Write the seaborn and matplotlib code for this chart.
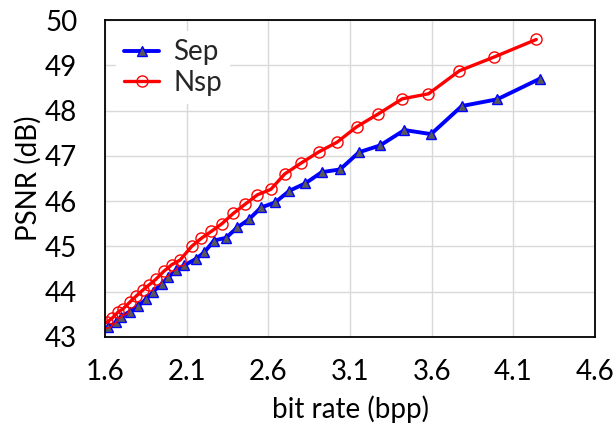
import numpy as np
import pandas as pd
import matplotlib
matplotlib.use("Agg")
import matplotlib.pyplot as plt
import seaborn as sns

# --- data ---
nsp_rate = [1.61, 1.645, 1.68, 1.71, 1.755, 1.79, 1.83, 1.87, 1.91, 1.96, 2.01,
            2.06, 2.13, 2.19, 2.25, 2.315, 2.386, 2.457, 2.533, 2.615, 2.70, 2.80,
            2.91, 3.02, 3.14, 3.27, 3.42, 3.58, 3.77, 3.98, 4.24]
nsp_psnr = [43.32, 43.42, 43.55, 43.62, 43.78, 43.90, 44.03, 44.15, 44.27, 44.45, 44.60,
            44.70, 45.00, 45.18, 45.33, 45.50, 45.73, 45.93, 46.14, 46.26, 46.60, 46.84,
            47.09, 47.30, 47.64, 47.92, 48.26, 48.37, 48.88, 49.18, 49.57]

sep_rate = [1.62, 1.665, 1.70, 1.75, 1.80, 1.85, 1.895, 1.947, 1.988, 2.035, 2.084,
            2.155, 2.208, 2.267, 2.341, 2.41, 2.482, 2.555, 2.641, 2.729, 2.825,
            2.927, 3.039, 3.155, 3.284, 3.433, 3.596, 3.784, 4.002, 4.26]
sep_psnr = [43.22, 43.32, 43.45, 43.56, 43.68, 43.83, 44.00, 44.17, 44.32, 44.48, 44.58,
            44.72, 44.87, 45.13, 45.19, 45.42, 45.60, 45.86, 45.97, 46.23, 46.39,
            46.64, 46.70, 47.08, 47.23, 47.57, 47.48, 48.10, 48.25, 48.70]

x_ticks = [1.6, 2.1, 2.6, 3.1, 3.6, 4.1, 4.6]
y_ticks = [43, 44, 45, 46, 47, 48, 49, 50]

sep_df = pd.DataFrame({"rate": sep_rate, "psnr": sep_psnr})
nsp_df = pd.DataFrame({"rate": nsp_rate, "psnr": nsp_psnr})

sns.set_theme(style="white")
plt.rcParams["font.family"] = ["Lato", "DejaVu Sans"]

FS = 20

fig = plt.figure(figsize=(6.16, 4.26), dpi=100)
ax = fig.add_axes([0.1705, 0.209, 0.7955, 0.744])

sns.lineplot(data=sep_df, x="rate", y="psnr", ax=ax, color="blue", linewidth=2.8,
             marker="^", markersize=7.5, markerfacecolor="#595959",
             markeredgecolor="blue", markeredgewidth=1.0, label="Sep", sort=False)
sns.lineplot(data=nsp_df, x="rate", y="psnr", ax=ax, color="red", linewidth=2.4,
             marker="o", markersize=8, markerfacecolor="none",
             markeredgecolor="red", markeredgewidth=1.0, label="Nsp", sort=False)

ax.set_xlim(1.6, 4.6)
ax.set_ylim(43, 50)
ax.set_xticks(x_ticks)
ax.set_xticklabels([f"{t:.1f}" for t in x_ticks])
ax.set_yticks(y_ticks)
ax.grid(True, color="#d9d9d9", linewidth=1.0)
ax.set_axisbelow(True)
for s in ax.spines.values():
    s.set_color("black")
    s.set_linewidth(1.3)
ax.tick_params(axis="both", length=0, labelsize=FS, colors="black")
ax.tick_params(axis="y", pad=20)
ax.tick_params(axis="x", pad=16)

ax.set_xlabel("bit rate (bpp)", fontsize=FS, color="black", labelpad=7)
ax.set_ylabel("PSNR (dB)", fontsize=FS, color="black", labelpad=2)

leg = ax.legend(loc="upper left", fontsize=FS, frameon=True, facecolor="white",
                edgecolor="none", framealpha=1, handlelength=1.25,
                borderaxespad=0.4, labelspacing=0.15, handletextpad=0.5,
                borderpad=0.3)

fig.savefig("out.png", dpi=100)
